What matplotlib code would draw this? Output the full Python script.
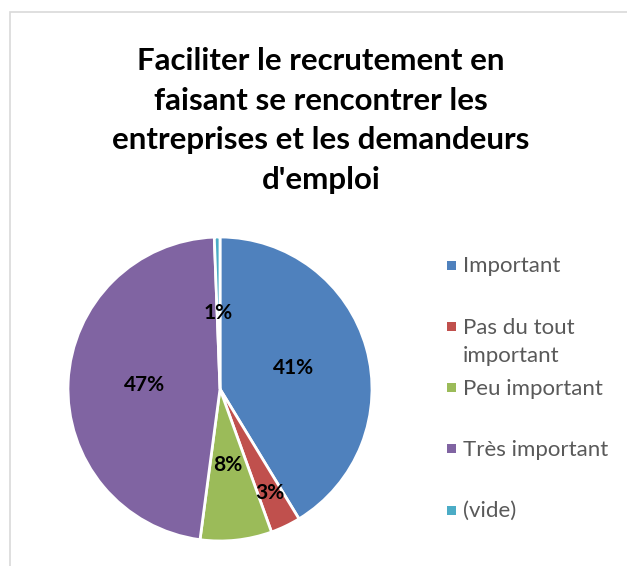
import matplotlib
matplotlib.use("Agg")
import matplotlib.pyplot as plt
from matplotlib.patches import Rectangle
import numpy as np

# data (percent of answers, clockwise from the top)
categories = ["Important", "Pas du tout\nimportant", "Peu important", "Très important", "(vide)"]
values = [41.3, 3.2, 7.6, 47.3, 0.6]
colors = ["#4F81BD", "#C0504D", "#9BBB59", "#8064A2", "#4BACC6"]
title = "Faciliter le recrutement en\nfaisant se rencontrer les\nentreprises et les demandeurs\nd'emploi"

W, H = 627, 566
fig = plt.figure(figsize=(W / 100, H / 100), dpi=100)
fig.patch.set_facecolor("white")

def fx(x):
    return x / W

def fy(y):
    return 1 - y / H

# chart area border (runs off right/bottom edge like the screenshot)
fig.patches.append(Rectangle((fx(10), fy(600)), fx(700), 588 / H, transform=fig.transFigure,
                             fill=False, edgecolor="#D9D9D9", linewidth=1.2))

# title - va="baseline" sits on the last line's baseline
fig.text(fx(321), fy(189), title, ha="center", va="baseline", fontsize=22.5,
         fontweight="bold", family="Lato", linespacing=1.5, color="black")

# pie, centre (220, 389), radius 152 px
cx, cy, r = 220, 389, 152
ax = fig.add_axes([fx(cx - r), fy(cy + r), 2 * r / W, 2 * r / H])
wedges, texts, autotexts = ax.pie(values, colors=colors, startangle=90, counterclock=False,
                                  autopct="%.0f%%", pctdistance=0.5,
                                  wedgeprops=dict(edgecolor="white", linewidth=2))
ax.set_xlim(-1, 1)
ax.set_ylim(-1, 1)
ax.set_aspect("equal")

for t in autotexts:
    t.set_fontsize(15)
    t.set_fontweight("bold")
    t.set_family("Lato")
    t.set_color("black")

# the small red slice gets its label pushed outward
w = wedges[1]
mid = np.deg2rad((w.theta1 + w.theta2) / 2)
autotexts[1].set_position((0.76 * np.cos(mid), 0.76 * np.sin(mid)))

# legend, laid out like the Excel one (first lines evenly spaced)
leg_x = 451
for i, (lab, col) in enumerate(zip(categories, colors)):
    base = 272 + i * 61.3
    nlines = lab.count("\n")
    fig.patches.append(Rectangle((fx(leg_x - 4.5), fy(base - 7 + 4.5)), 9 / W, 9 / H,
                                 transform=fig.transFigure, facecolor=col, edgecolor="none"))
    fig.text(fx(463), fy(base + 29 * nlines), lab, ha="left", va="baseline", fontsize=16,
             family="Lato", color="#595959", linespacing=1.55)

fig.savefig("out.png", dpi=100)
